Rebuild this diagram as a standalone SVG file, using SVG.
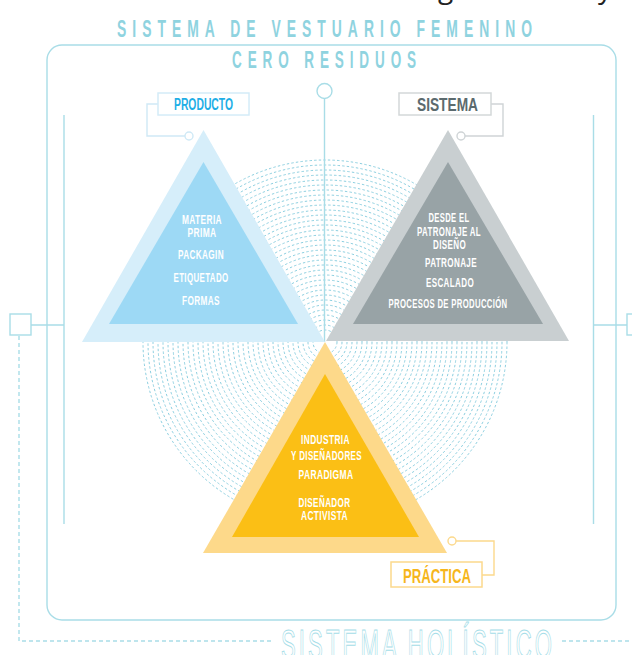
<svg xmlns="http://www.w3.org/2000/svg" width="632" height="655" viewBox="0 0 632 655">
<style>
.f{font-family:"Liberation Sans",Arial,sans-serif;font-weight:bold}
.ttl{fill:#8fd3df;font-size:23px;letter-spacing:10px}
.w{fill:#ffffff;font-size:13.5px;letter-spacing:0.6px}
.ln{fill:none;stroke:#a9dde7;stroke-width:1.4}
.dl{fill:none;stroke:#a9dde7;stroke-width:1.4;stroke-dasharray:4 3}
.rings circle{fill:none;stroke:#8ccfe0;stroke-width:1;stroke-dasharray:2.4 2.2}
</style>
<rect width="632" height="655" fill="#ffffff"/>
<text x="438" y="-2" font-family="'Open Sans','Liberation Sans',sans-serif" font-size="28" fill="#222">g</text>
<text x="598" y="-2" font-family="'Open Sans','Liberation Sans',sans-serif" font-size="28" fill="#222">y</text>
<g id="titles">
<text class="f ttl" x="117" y="37" textLength="421" lengthAdjust="spacingAndGlyphs">SISTEMA DE VESTUARIO FEMENINO</text>
<text class="f ttl" x="232" y="68" textLength="190" lengthAdjust="spacingAndGlyphs">CERO RESIDUOS</text>
</g>
<g id="frame">
<rect x="47" y="45" width="569" height="575" rx="15" class="ln"/>
</g>
<g class="rings">
<circle cx="325" cy="342" r="182"/><circle cx="325" cy="342" r="177"/><circle cx="325" cy="342" r="172"/><circle cx="325" cy="342" r="167"/><circle cx="325" cy="342" r="162"/><circle cx="325" cy="342" r="157"/><circle cx="325" cy="342" r="152"/><circle cx="325" cy="342" r="147"/><circle cx="325" cy="342" r="142"/><circle cx="325" cy="342" r="137"/><circle cx="325" cy="342" r="132"/><circle cx="325" cy="342" r="127"/><circle cx="325" cy="342" r="122"/><circle cx="325" cy="342" r="117"/><circle cx="325" cy="342" r="112"/><circle cx="325" cy="342" r="107"/><circle cx="325" cy="342" r="102"/><circle cx="325" cy="342" r="97"/><circle cx="325" cy="342" r="92"/><circle cx="325" cy="342" r="87"/><circle cx="325" cy="342" r="82"/><circle cx="325" cy="342" r="77"/><circle cx="325" cy="342" r="72"/><circle cx="325" cy="342" r="67"/><circle cx="325" cy="342" r="62"/><circle cx="325" cy="342" r="57"/><circle cx="325" cy="342" r="52"/><circle cx="325" cy="342" r="47"/><circle cx="325" cy="342" r="42"/><circle cx="325" cy="342" r="37"/><circle cx="325" cy="342" r="32"/><circle cx="325" cy="342" r="27"/><circle cx="325" cy="342" r="22"/><circle cx="325" cy="342" r="17"/><circle cx="325" cy="342" r="12"/>
</g>
<g id="connectors">
<circle cx="324.5" cy="91" r="7.5" class="ln" fill="#fff"/>
<line x1="324.5" y1="98.5" x2="324.5" y2="342" class="ln"/>
<line x1="64" y1="115" x2="64" y2="524" class="ln"/>
<line x1="593.5" y1="115" x2="593.5" y2="524" class="ln"/>
<line x1="31" y1="325" x2="64" y2="325" class="ln"/>
<line x1="593.5" y1="325" x2="627" y2="325" class="ln"/>
<rect x="10" y="314" width="21" height="21" class="ln" fill="#fff"/>
<rect x="627" y="314" width="21" height="21" class="ln" fill="#fff"/>
<polyline points="19,336 19,641 273,641" class="dl"/>
<line x1="562" y1="641" x2="632" y2="641" class="dl"/>
<polyline points="158,104 147,104 147,136 185,136" fill="none" stroke="#cfe9f6" stroke-width="1.4"/>
<circle cx="189" cy="136" r="4" fill="#fff" stroke="#cfe9f6" stroke-width="1.4"/>
<polyline points="491,104 503,104 503,136 465,136" fill="none" stroke="#cfd4d6" stroke-width="1.4"/>
<circle cx="461" cy="136" r="4" fill="#fff" stroke="#cfd4d6" stroke-width="1.4"/>
<polyline points="456,541 494,541 494,575 482,575" fill="none" stroke="#fcd98c" stroke-width="1.4"/>
<circle cx="452" cy="541" r="4" fill="#fff" stroke="#fcd98c" stroke-width="1.4"/>
</g>
<g id="producto">
<polygon points="203.5,130 82,342 325,342" fill="#d6eefa"/>
<polygon points="203.5,162 109,324 298,324" fill="#9dd9f5"/>
<text class="f w" x="182" y="224" textLength="40" lengthAdjust="spacingAndGlyphs">MATERIA</text>
<text class="f w" x="187.5" y="237" textLength="29" lengthAdjust="spacingAndGlyphs">PRIMA</text>
<text class="f w" x="178" y="258.5" textLength="46" lengthAdjust="spacingAndGlyphs">PACKAGIN</text>
<text class="f w" x="173.5" y="282" textLength="55" lengthAdjust="spacingAndGlyphs">ETIQUETADO</text>
<text class="f w" x="182" y="305" textLength="38" lengthAdjust="spacingAndGlyphs">FORMAS</text>
<rect x="158" y="93" width="91" height="22" fill="#fff" stroke="#d4ecf8" stroke-width="1.5"/>
<text class="f" x="174" y="110" font-size="16" fill="#1eaee6" textLength="59" lengthAdjust="spacingAndGlyphs">PRODUCTO</text>
</g>
<g id="sistema">
<polygon points="448,130 326,341 569,341" fill="#c9cfd1"/>
<polygon points="448,162 353,324 543,324" fill="#98a3a6"/>
<text class="f w" x="428.5" y="222" textLength="41" lengthAdjust="spacingAndGlyphs">DESDE EL</text>
<text class="f w" x="417" y="236" textLength="64" lengthAdjust="spacingAndGlyphs">PATRONAJE AL</text>
<text class="f w" x="433" y="248.5" textLength="33" lengthAdjust="spacingAndGlyphs">DISEÑO</text>
<text class="f w" x="425" y="267" textLength="52" lengthAdjust="spacingAndGlyphs">PATRONAJE</text>
<text class="f w" x="426" y="287" textLength="48" lengthAdjust="spacingAndGlyphs">ESCALADO</text>
<text class="f w" x="388.5" y="307.5" textLength="119" lengthAdjust="spacingAndGlyphs">PROCESOS DE PRODUCCIÓN</text>
<rect x="399" y="93" width="92" height="22" fill="#fff" stroke="#d3d8d9" stroke-width="1.5"/>
<text class="f" x="417" y="111" font-size="18" fill="#5b6a6e" textLength="61" lengthAdjust="spacingAndGlyphs">SISTEMA</text>
</g>
<g id="practica">
<polygon points="325,342 203,553 447,553" fill="#fdd98a"/>
<polygon points="325,374 232,537 419,537" fill="#fbbf15"/>
<text class="f w" x="301" y="444" textLength="49" lengthAdjust="spacingAndGlyphs">INDUSTRIA</text>
<text class="f w" x="291" y="459.5" textLength="71" lengthAdjust="spacingAndGlyphs">Y DISEÑADORES</text>
<text class="f w" x="298.5" y="479" textLength="55" lengthAdjust="spacingAndGlyphs">PARADIGMA</text>
<text class="f w" x="298.5" y="507" textLength="52" lengthAdjust="spacingAndGlyphs">DISEÑADOR</text>
<text class="f w" x="301" y="519.5" textLength="47" lengthAdjust="spacingAndGlyphs">ACTIVISTA</text>
<rect x="391" y="562" width="91" height="25" fill="#fff" stroke="#fcd98c" stroke-width="1.5"/>
<text class="f" x="403" y="583" font-size="20" fill="#f6b61c" textLength="68" lengthAdjust="spacingAndGlyphs">PRÁCTICA</text>
</g>
<g id="holistico">
<text x="281" y="659" font-family="'Liberation Sans',Arial,sans-serif" font-size="42" fill="#fff" stroke="#a5dde8" stroke-width="1" letter-spacing="6" textLength="274" lengthAdjust="spacingAndGlyphs">SISTEMA HOLÍSTICO</text>
</g>
</svg>
